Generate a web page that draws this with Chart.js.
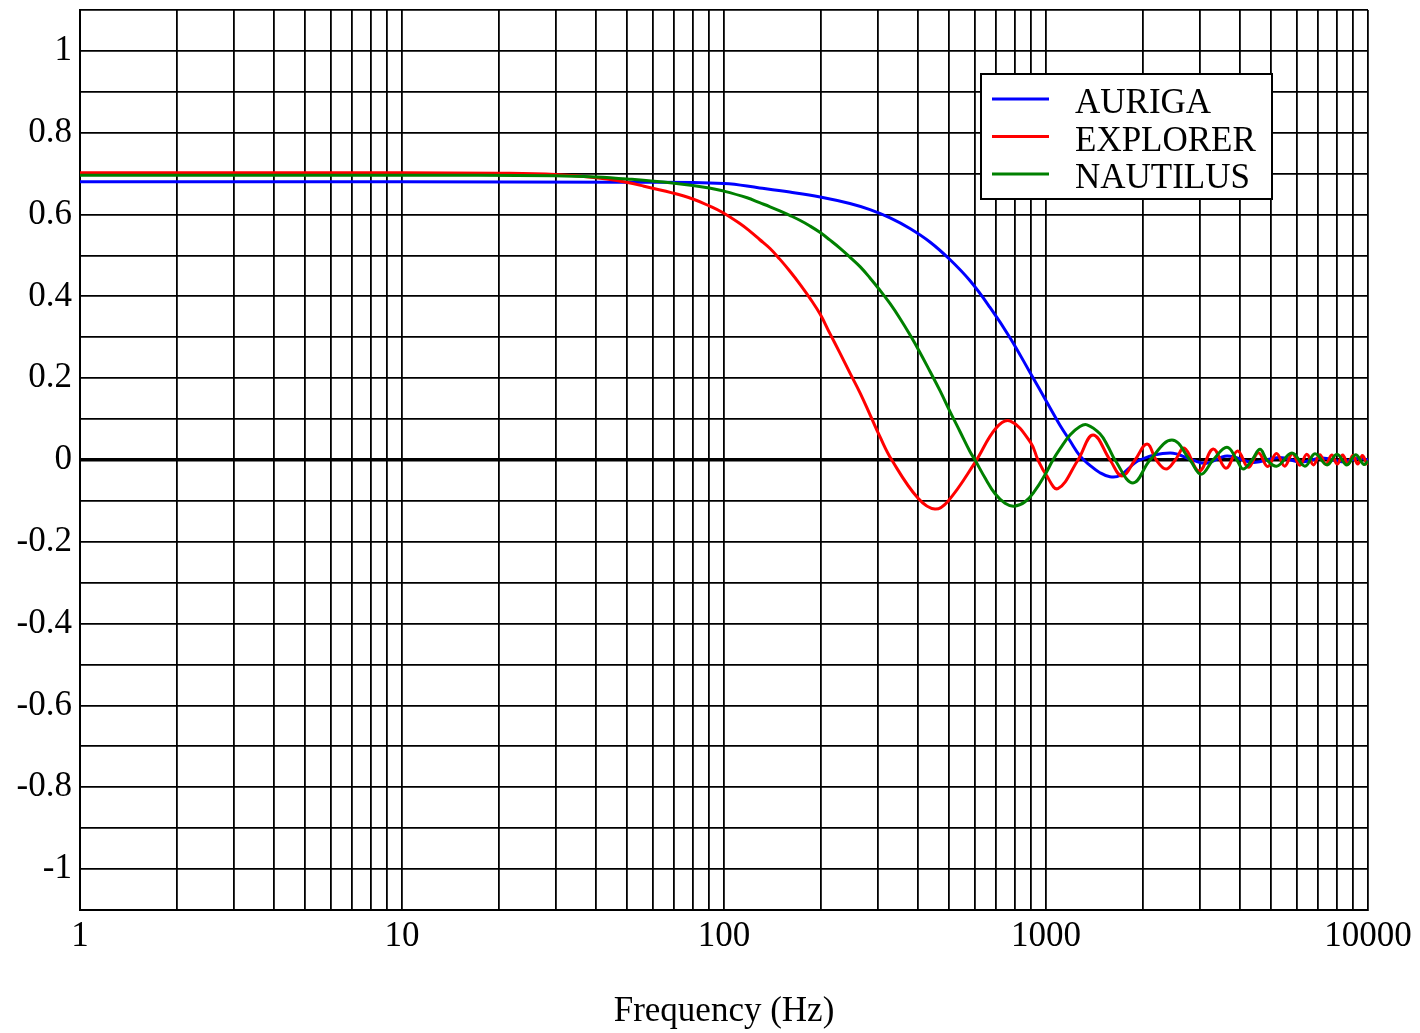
<!DOCTYPE html>
<html>
<head>
<meta charset="utf-8">
<script src="https://cdn.jsdelivr.net/npm/chart.js@4/dist/chart.umd.min.js"></script>
<style>
  html, body { margin:0; padding:0; background:#fff; }
  #wrap { width:1420px; height:1033px; }
</style>
</head>
<body>
<div id="wrap"><canvas id="c" width="1420" height="1033"></canvas></div>
<script>
/* Detector response vs frequency */

var seriesNames = ['AURIGA', 'EXPLORER', 'NAUTILUS'];
var seriesColors = ['#0000ff', '#ff0000', '#008000'];

var aurigaFreq = [1, 10, 50, 100, 129, 160, 199, 246, 284, 328, 378, 436, 503, 581, 670, 773, 892, 1029, 1105, 1187, 1275, 1369, 1471, 1580, 1697, 1955, 2430, 2850, 3150, 3650, 4400, 5300, 6200, 7200, 8300, 9400, 10000];
var aurigaVal  = [0.680, 0.680, 0.679, 0.676, 0.665, 0.655, 0.643, 0.627, 0.612, 0.592, 0.566, 0.533, 0.490, 0.438, 0.373, 0.299, 0.214, 0.128, 0.085, 0.047, 0.010, -0.013, -0.031, -0.041, -0.038, 0, 0.017, 0, -0.008, 0.010, -0.006, 0.006, -0.005, 0.005, -0.004, 0.004, 0];

var explorerFreq = [1, 10, 20, 30, 40, 46.5, 56, 69, 80, 90, 99, 112, 120, 129, 139, 149, 160, 172, 185, 199, 213, 229, 246, 265, 284, 305, 332, 400, 452, 497, 601, 700, 775, 897, 944, 1000, 1089, 1257, 1400, 1581, 1722, 1890, 2060, 2200, 2360, 2520, 2690, 2990, 3305, 3620, 3935, 4250, 4565, 4880, 5195, 5510, 5825, 6140, 6455, 6770, 7085, 7400, 7715, 8030, 8345, 8660, 8975, 9290, 9605, 9920, 10000];
var explorerVal  = [0.702, 0.702, 0.701, 0.698, 0.690, 0.683, 0.670, 0.653, 0.638, 0.621, 0.605, 0.578, 0.560, 0.539, 0.517, 0.491, 0.462, 0.430, 0.395, 0.356, 0.310, 0.262, 0.213, 0.163, 0.111, 0.057, 0, -0.093, -0.120, -0.100, -0.007, 0.078, 0.095, 0.042, 0, -0.036, -0.070, 0, 0.061, 0, -0.039, 0, 0.039, 0, -0.022, 0, 0.029, -0.027, 0.027, -0.020, 0.022, -0.018, 0.018, -0.016, 0.016, -0.015, 0.015, -0.013, 0.014, -0.012, 0.013, -0.011, 0.012, -0.010, 0.012, -0.010, 0.011, -0.010, 0.011, -0.009, -0.004];

var nautilusFreq = [1, 10, 30, 40, 50, 69, 90, 99, 118, 129, 139, 149, 160, 172, 185, 199, 213, 229, 246, 265, 284, 305, 328, 352, 378, 406, 436, 469, 503, 541, 581, 602, 647, 694, 746, 796, 861, 924, 993, 1051, 1105, 1187, 1275, 1341, 1471, 1558, 1638, 1863, 2104, 2461, 2800, 3030, 3303, 3648, 3917, 4093, 4363, 4620, 4855, 5215, 5805, 6370, 6845, 7460, 8010, 8600, 9150, 9700, 10000];
var nautilusVal  = [0.696, 0.696, 0.695, 0.692, 0.687, 0.677, 0.665, 0.658, 0.641, 0.629, 0.619, 0.609, 0.598, 0.586, 0.572, 0.556, 0.538, 0.518, 0.496, 0.472, 0.445, 0.415, 0.382, 0.346, 0.306, 0.263, 0.217, 0.169, 0.119, 0.069, 0.020, 0, -0.044, -0.082, -0.106, -0.113, -0.102, -0.075, -0.036, 0, 0.027, 0.061, 0.082, 0.086, 0.064, 0.033, 0, -0.056, 0, 0.049, 0, -0.035, 0, 0.031, 0, -0.022, 0, 0.026, 0, -0.015, 0.017, -0.015, 0.015, -0.012, 0.014, -0.012, 0.013, -0.011, -0.003];

var xDecades = [1, 10, 100, 1000, 10000];
var yLabelValues = [-1, -0.8, -0.6, -0.4, -0.2, 0, 0.2, 0.4, 0.6, 0.8, 1];
var xTitle = 'Frequency (Hz)';

var FONT = 'Liberation Serif, Times New Roman, serif';

function pairs(fs, vs){
  return fs.map(function(f, i){ return {x:f, y:vs[i]}; });
}

// grid every 1..9 per decade on x, every 0.1 on y
var xGrid = [];
for (var d = 0; d < xDecades.length - 1; d++) {
  for (var k = 1; k <= 9; k++) xGrid.push(xDecades[d] * k);
}
xGrid.push(xDecades[xDecades.length - 1]);
var yGrid = [];
for (var j = -11; j <= 11; j++) yGrid.push(j / 10);

var legendBox = {
  id: 'legendBox',
  afterDatasetsDraw: function(chart){
    var c = chart.ctx;
    var x0 = 981, y0 = 74, w = 291, h = 125;
    c.save();
    c.fillStyle = '#fff';
    c.fillRect(x0, y0, w, h);
    c.strokeStyle = '#000';
    c.lineWidth = 2;
    c.strokeRect(x0, y0, w, h);
    c.font = '35px ' + FONT;
    c.textBaseline = 'alphabetic';
    c.textAlign = 'left';
    chart.data.datasets.forEach(function(ds, i){
      var ly = 99 + i * 37.5;
      c.strokeStyle = ds.borderColor;
      c.lineWidth = 3;
      c.beginPath();
      c.moveTo(992, ly);
      c.lineTo(1049, ly);
      c.stroke();
      c.fillStyle = '#000';
      c.fillText(ds.label, 1075, ly + 14);
    });
    c.restore();
  }
};

var datasets = [
  {label: seriesNames[0], data: pairs(aurigaFreq, aurigaVal), borderColor: seriesColors[0], order: 3},
  {label: seriesNames[1], data: pairs(explorerFreq, explorerVal), borderColor: seriesColors[1], order: 2},
  {label: seriesNames[2], data: pairs(nautilusFreq, nautilusVal), borderColor: seriesColors[2], order: 1}
].map(function(ds){
  ds.borderWidth = 3;
  ds.pointRadius = 0;
  ds.fill = false;
  ds.tension = 0.4;
  return ds;
});

new Chart(document.getElementById('c'), {
  type: 'line',
  data: { datasets: datasets },
  options: {
    responsive: false,
    animation: false,
    devicePixelRatio: 1,
    layout: { padding: { top: 10, right: 52, bottom: 0, left: 0 } },
    plugins: { legend: { display: false }, tooltip: { enabled: false } },
    scales: {
      x: {
        type: 'logarithmic',
        min: 1, max: 10000,
        afterBuildTicks: function(s){ s.ticks = xGrid.map(function(v){ return {value:v}; }); },
        afterFit: function(s){ s.height = 123; s.paddingLeft = 0; s.paddingRight = 0; },
        grid: { color: '#000', lineWidth: 1.8, drawTicks: false },
        border: { color: '#000', width: 2 },
        ticks: {
          autoSkip: false, maxRotation: 0, padding: 6, color: '#000',
          font: { family: FONT, size: 35, lineHeight: 1.2 },
          callback: function(v){ return xDecades.indexOf(v) >= 0 ? String(v) : ''; }
        },
        title: {
          display: true, text: xTitle, color: '#000',
          font: { family: FONT, size: 35, lineHeight: 1.2 },
          padding: { top: 0, bottom: 0 }
        }
      },
      y: {
        type: 'linear',
        min: -1.1, max: 1.1,
        afterBuildTicks: function(s){ s.ticks = yGrid.map(function(v){ return {value:v}; }); },
        afterFit: function(s){ s.width = 80; s.paddingTop = 0; s.paddingBottom = 0; },
        grid: {
          color: '#000', drawTicks: false,
          lineWidth: function(ctx){ return (ctx.tick && Math.abs(ctx.tick.value) < 1e-9) ? 3.5 : 1.8; }
        },
        border: { color: '#000', width: 2 },
        ticks: {
          autoSkip: false, padding: 8, color: '#000',
          font: { family: FONT, size: 35 },
          callback: function(v){
            var r = Math.round(v * 10) / 10;
            for (var i = 0; i < yLabelValues.length; i++) {
              if (Math.abs(yLabelValues[i] - r) < 1e-9) return String(yLabelValues[i]);
            }
            return '';
          }
        }
      }
    }
  },
  plugins: [legendBox]
});
</script>
</body>
</html>
